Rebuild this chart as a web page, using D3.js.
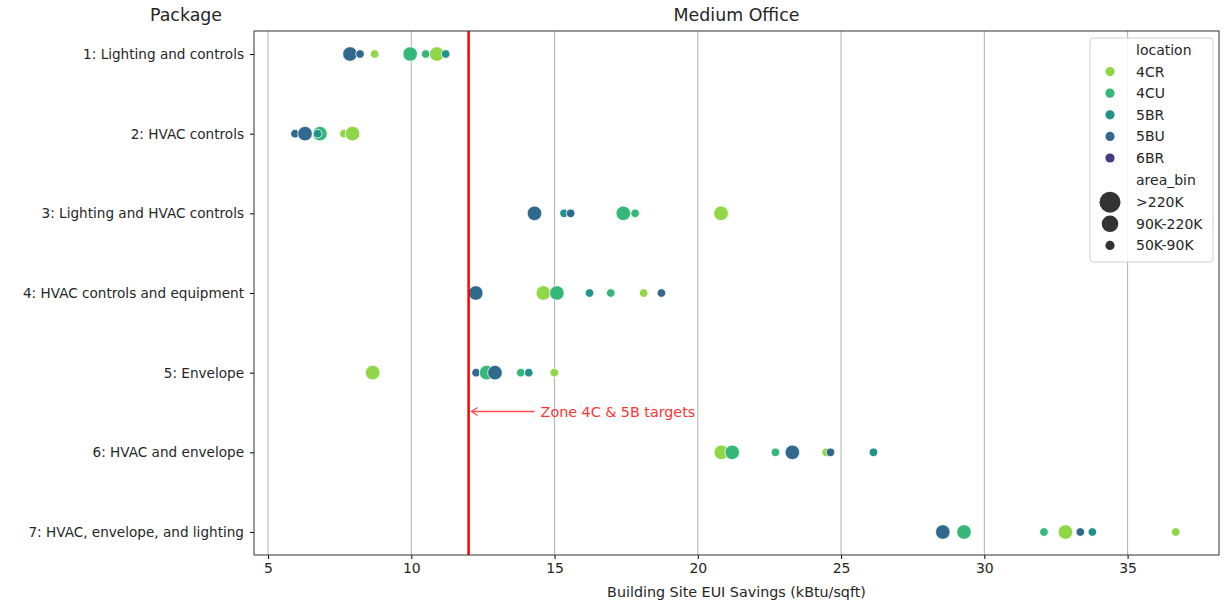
<!DOCTYPE html>
<html>
<head>
<meta charset="utf-8">
<script src="https://cdn.jsdelivr.net/npm/d3@7"></script>
<style>
  body { margin: 0; background: #fff; }
  text { font-family: "DejaVu Sans", sans-serif; fill: #262626; }
</style>
</head>
<body>
<div id="chart"></div>
<script>
var packages = [
    "1: Lighting and controls",
    "2: HVAC controls",
    "3: Lighting and HVAC controls",
    "4: HVAC controls and equipment",
    "5: Envelope",
    "6: HVAC and envelope",
    "7: HVAC, envelope, and lighting"
];
var locations = ["4CR", "4CU", "5BR", "5BU", "6BR"];
var locationColors = ["#8fd744", "#35b779", "#21918c", "#31688e", "#443983"];
var areaBins = [">220K", "90K-220K", "50K-90K"];
var xTicks = [5, 10, 15, 20, 25, 30, 35];

// one entry per point: package index, location, area bin, savings
var pkgIndex = [0,0,0,0,0,0,0, 1,1,1,1,1,1, 2,2,2,2,2,2, 3,3,3,3,3,3,3, 4,4,4,4,4,4,4, 5,5,5,5,5,5,5, 6,6,6,6,6,6,6];
var pointLoc = ["5BU","5BU","4CR","4CU","4CU","4CR","5BR",
                "5BU","5BU","4CU","5BR","4CR","4CR",
                "5BU","5BR","5BU","4CU","4CU","4CR",
                "5BU","4CR","4CU","5BR","4CU","4CR","5BU",
                "4CR","5BU","4CU","5BU","4CU","5BR","4CR",
                "4CR","4CU","4CU","5BU","4CR","5BU","5BR",
                "5BU","4CU","4CU","4CR","5BU","5BR","4CR"];
var pointBin = ["90K-220K","50K-90K","50K-90K","90K-220K","50K-90K","90K-220K","50K-90K",
                "50K-90K","90K-220K","90K-220K","50K-90K","50K-90K","90K-220K",
                "90K-220K","50K-90K","50K-90K","90K-220K","50K-90K","90K-220K",
                "90K-220K","90K-220K","90K-220K","50K-90K","50K-90K","50K-90K","50K-90K",
                "90K-220K","50K-90K","90K-220K","90K-220K","50K-90K","50K-90K","50K-90K",
                "90K-220K","90K-220K","50K-90K","90K-220K","50K-90K","50K-90K","50K-90K",
                "90K-220K","90K-220K","50K-90K","90K-220K","50K-90K","50K-90K","50K-90K"];
var savings = [7.86, 8.21, 8.72, 9.96, 10.5, 10.89, 11.2,
               5.94, 6.29, 6.81, 6.73, 7.65, 7.95,
               14.30, 15.33, 15.56, 17.40, 17.81, 20.81,
               12.25, 14.61, 15.08, 16.22, 16.96, 18.11, 18.73,
               8.65, 12.26, 12.63, 12.92, 13.82, 14.10, 14.99,
               20.82, 21.2, 22.71, 23.30, 24.48, 24.63, 26.13,
               28.55, 29.29, 32.08, 32.83, 33.35, 33.77, 36.68];
var target = 12;

var margin = { top: 31, right: 6, bottom: 52, left: 254 },
    width = 1225 - margin.left - margin.right,
    height = 607 - margin.top - margin.bottom;

var svg = d3.select("#chart")
    .append("svg")
        .attr("width", 1225)
        .attr("height", 607)
    .append("g")
        .attr("transform", "translate(" + margin.left + "," + margin.top + ")");

var x = d3.scaleLinear().domain([4.51, 38.19]).range([0, width]);
var y = d3.scalePoint().domain(packages).range([23, height - 23]);
var color = d3.scaleOrdinal().domain(locations).range(locationColors);
var size = d3.scaleOrdinal().domain(areaBins).range([9, 7.3, 4.3]);

// grid
svg.append("g")
    .selectAll("line")
    .data(xTicks)
    .enter().append("line")
    .attr("x1", function(d) { return x(d); })
    .attr("x2", function(d) { return x(d); })
    .attr("y1", 0)
    .attr("y2", height)
    .attr("stroke", "#b0b0b0")
    .attr("stroke-width", 1);

// axes
var xAxis = svg.append("g")
    .attr("transform", "translate(0," + height + ")")
    .call(d3.axisBottom(x).tickValues(xTicks).tickSize(4).tickPadding(4));
xAxis.select(".domain").remove();
xAxis.selectAll("text").style("font-size", "14px").attr("fill", "#262626");

var yAxis = svg.append("g")
    .call(d3.axisLeft(y).tickSize(4).tickPadding(6));
yAxis.select(".domain").remove();
yAxis.selectAll("text").style("font-size", "13.6px").attr("fill", "#262626");

// points
var points = savings.map(function(v, i) {
    return { pkg: packages[pkgIndex[i]], loc: pointLoc[i], bin: pointBin[i], value: v };
});
svg.append("g")
    .selectAll("circle")
    .data(points)
    .enter().append("circle")
    .attr("cx", function(d) { return x(d.value); })
    .attr("cy", function(d) { return y(d.pkg); })
    .attr("r", function(d) { return size(d.bin); })
    .attr("fill", function(d) { return color(d.loc); })
    .attr("stroke", "#fff")
    .attr("stroke-width", 0.8);

// target line
svg.append("line")
    .attr("x1", x(target)).attr("x2", x(target))
    .attr("y1", 0).attr("y2", height)
    .attr("stroke", "red")
    .attr("stroke-width", 2.5);

// annotation
var annY = (y(packages[4]) + y(packages[5])) / 2 - 1;
svg.append("path")
    .attr("d", "M" + (x(target) + 9) + "," + (annY - 4) + " L" + (x(target) + 3) + "," + annY + " L" + (x(target) + 9) + "," + (annY + 4))
    .attr("fill", "none")
    .attr("stroke", "#ff4d4d")
    .attr("stroke-width", 1.3);
svg.append("line")
    .attr("x1", x(target) + 3).attr("x2", x(target) + 66)
    .attr("y1", annY).attr("y2", annY)
    .attr("stroke", "#ff4d4d")
    .attr("stroke-width", 1.5);
svg.append("text")
    .attr("x", x(target) + 72)
    .attr("y", annY)
    .attr("dy", "0.35em")
    .style("font-size", "14.3px")
    .style("fill", "#ff3333")
    .text("Zone 4C & 5B targets");

// frame
svg.append("rect")
    .attr("width", width)
    .attr("height", height)
    .attr("fill", "none")
    .attr("stroke", "#333")
    .attr("stroke-width", 1);

// titles
svg.append("text")
    .attr("x", width / 2)
    .attr("y", -10)
    .style("text-anchor", "middle")
    .style("font-size", "17.4px")
    .text("Medium Office");
svg.append("text")
    .attr("x", 186 - margin.left)
    .attr("y", -10)
    .style("text-anchor", "middle")
    .style("font-size", "17.4px")
    .text("Package");
svg.append("text")
    .attr("x", width / 2)
    .attr("y", height + 42)
    .style("text-anchor", "middle")
    .style("font-size", "14.3px")
    .text("Building Site EUI Savings (kBtu/sqft)");

// legend
var lg = svg.append("g").attr("transform", "translate(" + (1090 - margin.left) + "," + (38 - margin.top) + ")");
lg.append("rect")
    .attr("width", 123).attr("height", 224)
    .attr("rx", 3)
    .attr("fill", "#fff").attr("fill-opacity", 0.85)
    .attr("stroke", "#d0d0d0");
var rowY = function(i) { return 12 + i * 21.6; };
lg.append("text").attr("x", 46).attr("y", rowY(0)).attr("dy", "0.35em")
    .style("font-size", "14px").text("location");
locations.forEach(function(l, i) {
    lg.append("circle").attr("cx", 20).attr("cy", rowY(i + 1)).attr("r", 4.6)
        .attr("fill", color(l));
    lg.append("text").attr("x", 46).attr("y", rowY(i + 1)).attr("dy", "0.35em")
        .style("font-size", "14px").text(l);
});
lg.append("text").attr("x", 46).attr("y", rowY(6)).attr("dy", "0.35em")
    .style("font-size", "14px").text("area_bin");
var legendR = [10.5, 8.3, 4.6];
areaBins.forEach(function(b, i) {
    lg.append("circle").attr("cx", 20).attr("cy", rowY(i + 7) + 1).attr("r", legendR[i])
        .attr("fill", "#333");
    lg.append("text").attr("x", 46).attr("y", rowY(i + 7) + 1).attr("dy", "0.35em")
        .style("font-size", "14px").text(b);
});
</script>
</body>
</html>
